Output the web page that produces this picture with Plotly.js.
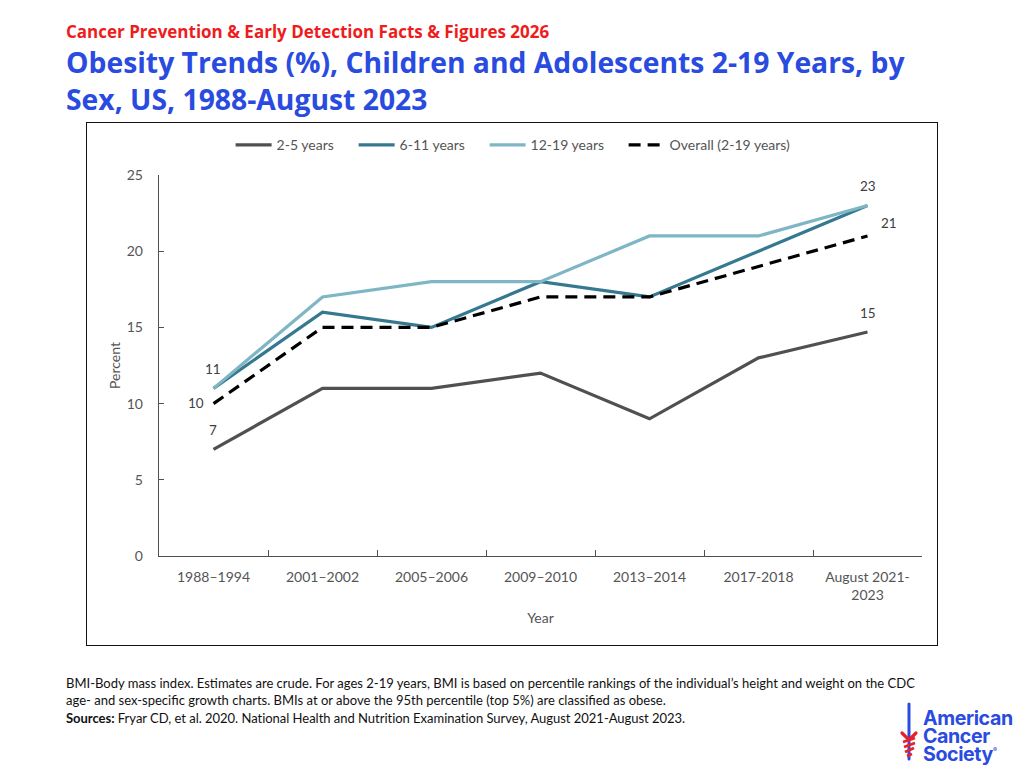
<!DOCTYPE html>
<html><head><meta charset="utf-8">
<script src="https://cdn.plot.ly/plotly-3.0.1.min.js"></script>
<style>
html,body{margin:0;padding:0;background:#fff;width:1024px;height:768px;overflow:hidden}
.t{position:absolute;white-space:nowrap}
#kicker{left:66px;top:21px;font:bold 17px/22px "Open Sans";color:#ee1c1c}
#title{left:66px;top:44px;font:bold 28.3px/37px "Open Sans";color:#2a4be0}
#frame{position:absolute;left:86px;top:122px;width:850px;height:522px;border:1px solid #111}
#chart{position:absolute;left:0;top:0;width:850px;height:521px}
#foot{left:66px;top:675px;font:13.03px/17.3px Lato;color:#111}
#logoT{left:923px;top:709px;font:bold 19.6px/18px Inter;color:#2a4be0;letter-spacing:-.4px}
#mark{position:absolute;left:898px;top:700px}
</style></head><body>
<div class="t" id="kicker">Cancer Prevention &amp; Early Detection Facts &amp; Figures 2026</div>
<div class="t" id="title">Obesity Trends (%), Children and Adolescents 2-19 Years, by<br>Sex, US, 1988-August 2023</div>
<div id="frame"><div id="chart"></div></div>
<div class="t" id="foot">BMI-Body mass index. Estimates are crude. For ages 2-19 years, BMI is based on percentile rankings of the individual’s height and weight on the CDC<br>age- and sex-specific growth charts. BMIs at or above the 95th percentile (top 5%) are classified as obese.<br><span style="letter-spacing:-.03px"><b>Sources:</b> Fryar CD, et al. 2020. National Health and Nutrition Examination Survey, August 2021-August 2023.</span></div>
<svg id="mark" width="24" height="64" viewBox="0 0 24 64">
<path d="M11 4V59" stroke="#2a4be0" stroke-width="3" stroke-linecap="round"/>
<path d="M4 33L11 40L18 33" stroke="#e8202a" stroke-width="3.2" fill="none" stroke-linecap="round"/>
<path d="M5 42L17 38M6 47L17 43M7 52L16 48M9 56L14 54" stroke="#e8202a" stroke-width="2.8" fill="none"/>
</svg>
<div class="t" id="logoT">American<br>Cancer<br>Society<sup style="font-size:6px;font-weight:400;vertical-align:top;line-height:10px">®</sup></div>
<script>
const years = ["1988–1994","2001–2002","2005–2006","2009–2010","2013–2014","2017-2018","August 2021-<br>2023"];
const age2to5 = [7,11,11,12,9,13,14.7];
const age6to11 = [11,16,15,18,17,20,23];
const age12to19 = [11,17,18,18,21,21,23];
const overall = [10,15,15,17,17,19,21];
const textColor = "#555555";
const font = {family:"Lato",size:14,color:textColor};
function line(name,y,color,dash,lw){
  return {x:years,y:y,name:name,type:"scatter",mode:"lines",legendwidth:lw,
    line:{color:color,width:3.2,dash:dash||"solid",shape:"linear"},hoverinfo:"skip"};
}
const traces = [
  line("2-5 years",age2to5,"#505050",null,72),
  line("6-11 years",age6to11,"#35788f",null,80),
  line("12-19 years",age12to19,"#7fb6c6",null,88),
  line("Overall (2-19 years)",overall,"#000000","12px,7px",130)
];
function label(i,arr,text,dx,dy){
  return {x:years[i],y:arr[i],text:text,showarrow:false,xshift:dx,yshift:dy,
    font:{family:"Lato",size:13.5,color:"#404040"}};
}
const layout = {
  width:850,height:521,
  margin:{l:72,r:15,t:52,b:88,pad:0,autoexpand:false},
  paper_bgcolor:"rgba(0,0,0,0)",plot_bgcolor:"rgba(0,0,0,0)",
  font:font,showlegend:true,
  legend:{orientation:"h",x:0.47,xanchor:"center",y:1.078,yanchor:"middle",
    font:font,itemwidth:36,traceorder:"normal",tracegroupgap:0},
  xaxis:{type:"category",categoryorder:"array",categoryarray:years,range:[-0.5,6.5],
    tickson:"boundaries",ticks:"inside",ticklen:6,tickcolor:"#505050",tickwidth:1,
    showline:true,linecolor:"#505050",linewidth:1.3,showgrid:false,zeroline:false,
    tickangle:0,tickfont:font,automargin:false,ticklabelstandoff:8,
    title:{text:"Year",font:font,standoff:11}},
  yaxis:{range:[0,25],tickmode:"linear",tick0:0,dtick:5,ticks:"inside",ticklen:5,
    tickcolor:"#505050",tickwidth:1,showline:true,linecolor:"#505050",linewidth:1.3,
    showgrid:false,zeroline:false,tickfont:font,automargin:false,
    ticklabelstandoff:12,
    title:{text:"Percent",font:font,standoff:2}},
  annotations:[
    label(0,age2to5,"7",-1,19),
    label(6,age2to5,"15",0,19),
    label(0,overall,"10",-18,1),
    label(6,overall,"21",21,13),
    label(0,age12to19,"11",-1,19),
    label(6,age12to19,"23",0,19)
  ]
};
Plotly.newPlot("chart",traces,layout,{displayModeBar:false,staticPlot:true});
</script>
</body></html>
